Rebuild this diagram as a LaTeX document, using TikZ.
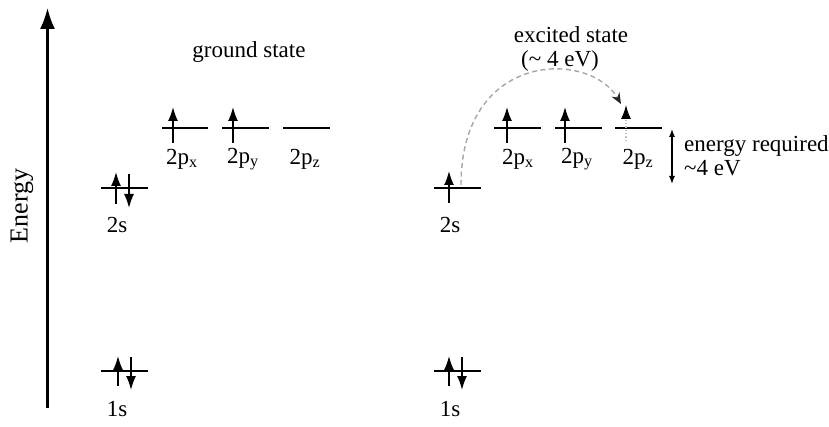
\documentclass[tikz,border=0pt]{standalone}
\usepackage{fontspec}
\setmainfont{Liberation Serif}
\usetikzlibrary{arrows.meta}
\begin{document}
\begin{tikzpicture}[x=1pt,y=-1pt,
  level/.style={line width=2pt},
  elec/.style={line width=1.6pt,-{Latex[length=14pt,width=10pt]}},
  lbl/.style={font=\fontsize{23}{27}\selectfont,inner sep=0pt},
  every node/.style={inner sep=0pt}]
\useasboundingbox (0,0) rectangle (829,427);
% axis
\coordinate (axb) at (47.5,408);
\coordinate (axt) at (47.5,8);
\draw[line width=2.2pt,-{Latex[length=21pt,width=15pt]}] (axb) -- (axt);
\node[rotate=90,font=\fontsize{26}{30}\selectfont] (energy) at (22,206) {Energy};
% ---- ground state ----
\node[lbl] (gs) at (249,52) {ground state};
% 2s
\coordinate (g2sa) at (101,188); \coordinate (g2sb) at (148,188);
\draw[level] (g2sa) -- (g2sb);
\coordinate (g2su0) at (116,204); \coordinate (g2su1) at (116,172);
\coordinate (g2sd0) at (129,174); \coordinate (g2sd1) at (129,208);
\draw[elec] (g2su0) -- (g2su1);
\draw[elec] (g2sd0) -- (g2sd1);
\node[lbl] (g2sl) at (117,225) {2s};
% 1s
\coordinate (g1sa) at (101,371); \coordinate (g1sb) at (148,371);
\draw[level] (g1sa) -- (g1sb);
\coordinate (g1su0) at (118,386); \coordinate (g1su1) at (118,356);
\coordinate (g1sd0) at (131,357); \coordinate (g1sd1) at (131,390);
\draw[elec] (g1su0) -- (g1su1);
\draw[elec] (g1sd0) -- (g1sd1);
\node[lbl] (g1sl) at (117,409) {1s};
% 2p
\coordinate (gpxa) at (162,128); \coordinate (gpxb) at (208,128);
\coordinate (gpya) at (222,128); \coordinate (gpyb) at (269,128);
\coordinate (gpza) at (283,128); \coordinate (gpzb) at (330,128);
\draw[level] (gpxa) -- (gpxb);
\draw[level] (gpya) -- (gpyb);
\draw[level] (gpza) -- (gpzb);
\coordinate (gpxu0) at (173,143); \coordinate (gpxu1) at (173,107);
\coordinate (gpyu0) at (233,143); \coordinate (gpyu1) at (233,107);
\draw[elec] (gpxu0) -- (gpxu1);
\draw[elec] (gpyu0) -- (gpyu1);
\node[lbl] (gpxl) at (182,159) {2p\textsubscript{x}};
\node[lbl] (gpyl) at (243,159) {2p\textsubscript{y}};
\node[lbl] (gpzl) at (305,159) {2p\textsubscript{z}};
% ---- excited state ----
\node[lbl] (es1) at (571,35) {excited state};
\node[lbl] (es2) at (560,61) {(\textasciitilde\ 4 eV)};
% 2s
\coordinate (e2sa) at (434,188); \coordinate (e2sb) at (481,188);
\draw[level] (e2sa) -- (e2sb);
\coordinate (e2su0) at (449,203); \coordinate (e2su1) at (449,171);
\draw[elec] (e2su0) -- (e2su1);
\node[lbl] (e2sl) at (450,225) {2s};
% 1s
\coordinate (e1sa) at (434,371); \coordinate (e1sb) at (481,371);
\draw[level] (e1sa) -- (e1sb);
\coordinate (e1su0) at (449,386); \coordinate (e1su1) at (449,356);
\coordinate (e1sd0) at (462,357); \coordinate (e1sd1) at (462,390);
\draw[elec] (e1su0) -- (e1su1);
\draw[elec] (e1sd0) -- (e1sd1);
\node[lbl] (e1sl) at (450,409) {1s};
% 2p
\coordinate (epxa) at (494,128); \coordinate (epxb) at (541,128);
\coordinate (epya) at (555,128); \coordinate (epyb) at (602,128);
\coordinate (epza) at (615,128); \coordinate (epzb) at (662,128);
\draw[level] (epxa) -- (epxb);
\draw[level] (epya) -- (epyb);
\draw[level] (epza) -- (epzb);
\coordinate (epxu0) at (507,143); \coordinate (epxu1) at (507,107);
\coordinate (epyu0) at (565,143); \coordinate (epyu1) at (565,107);
\draw[elec] (epxu0) -- (epxu1);
\draw[elec] (epyu0) -- (epyu1);
\coordinate (epzu0) at (626,141); \coordinate (epzu1) at (626,105);
\draw[line width=1.3pt,gray!50,dotted,-{Latex[length=14pt,width=10pt,black]}] (epzu0) -- (epzu1);
\node[lbl] (epxl) at (518,159) {2p\textsubscript{x}};
\node[lbl] (epyl) at (577,159) {2p\textsubscript{y}};
\node[lbl] (epzl) at (638,159) {2p\textsubscript{z}};
% excitation curve
\coordinate (cs) at (461,185);
\coordinate (ce) at (621,104);
\draw[gray!70,line width=1.4pt,dash pattern=on 5pt off 3.5pt,-{Stealth[length=11pt,width=9pt,black!85]}]
  (cs) .. controls (461,50) and (590,50) .. (ce);
% energy required
\coordinate (dra) at (672,129); \coordinate (drb) at (672,184);
\draw[line width=1.2pt,{Latex[length=8pt,width=6pt]}-{Latex[length=8pt,width=6pt]}] (dra) -- (drb);
\node[lbl,anchor=west] (er1) at (684,146) {energy required};
\node[lbl,anchor=west] (er2) at (684,168) {\textasciitilde4 eV};
\end{tikzpicture}
\end{document}
